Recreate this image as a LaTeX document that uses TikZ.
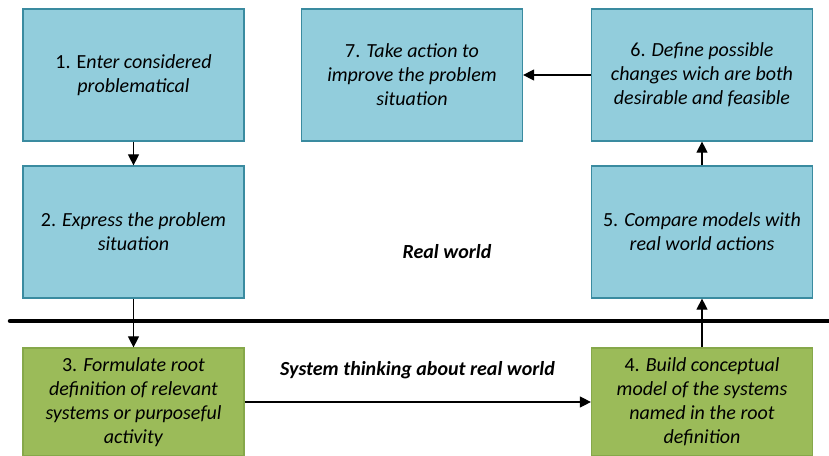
\documentclass[tikz,border=0pt]{standalone}
\usepackage{fontspec}
\setmainfont{Carlito}
\usetikzlibrary{arrows.meta}
\definecolor{realfill}{HTML}{92CDDC}
\definecolor{realline}{HTML}{3A8BA0}
\definecolor{sysfill}{HTML}{9BBB59}
\definecolor{sysline}{HTML}{86A84A}
\begin{document}
\begin{tikzpicture}[x=1pt,y=-1pt,
  box/.style={draw, line width=1.2pt, minimum width=221pt, minimum height=132pt,
    align=center, inner sep=0pt, font=\fontsize{20}{24}\selectfont},
  realbox/.style={box, fill=realfill, draw=realline},
  sysbox/.style={box, fill=sysfill, draw=sysline, minimum height=108pt},
  flow/.style={line width=1.1pt, -{Triangle[length=11pt,width=11pt]}},
  label/.style={font=\fontsize{20}{24}\selectfont\bfseries\itshape}]
\useasboundingbox (0,0) rectangle (829,455);
\begin{scope}
\clip (0,0) rectangle (829,455);
\node[realbox] (s1) at (133.5,75) {1. E\textit{nter considered}\\\textit{problematical}};
\node[realbox] (s2) at (133.5,232) {2. \textit{Express the problem}\\\textit{situation}};
\node[realbox] (s7) at (412,75) {7. \textit{Take action to}\\\textit{improve the problem}\\\textit{situation}};
\node[realbox] (s6) at (702,75) {6. \textit{Define possible}\\\textit{changes wich are both}\\\textit{desirable and feasible}};
\node[realbox] (s5) at (702,232) {5. \textit{Compare models with}\\\textit{real world actions}};
\node[sysbox] (s3) at (133.5,402) {3. \textit{Formulate root}\\\textit{definition of relevant}\\\textit{systems or purposeful}\\\textit{activity}};
\node[sysbox] (s4) at (702,402) {4. \textit{Build conceptual}\\\textit{model of the systems}\\\textit{named in the root}\\\textit{definition}};
% boundary between the real world and systems thinking
\coordinate (bl) at (10,321);
\coordinate (br) at (835,321);
\draw[line width=4.5pt, line cap=round] (bl) -- (br);
\node[label] (rw) at (447,252) {Real world};
\node[label] (st) at (417.5,370) {System thinking about real world};
% flow of the stages
\draw[flow] (s1) -- (s2);
\draw[flow] (s2) -- (s3);
\draw[flow] (s3) -- (s4);
\draw[flow] (s4) -- (s5);
\draw[flow] (s5) -- (s6);
\draw[flow] (s6) -- (s7);
\end{scope}
\end{tikzpicture}
\end{document}
